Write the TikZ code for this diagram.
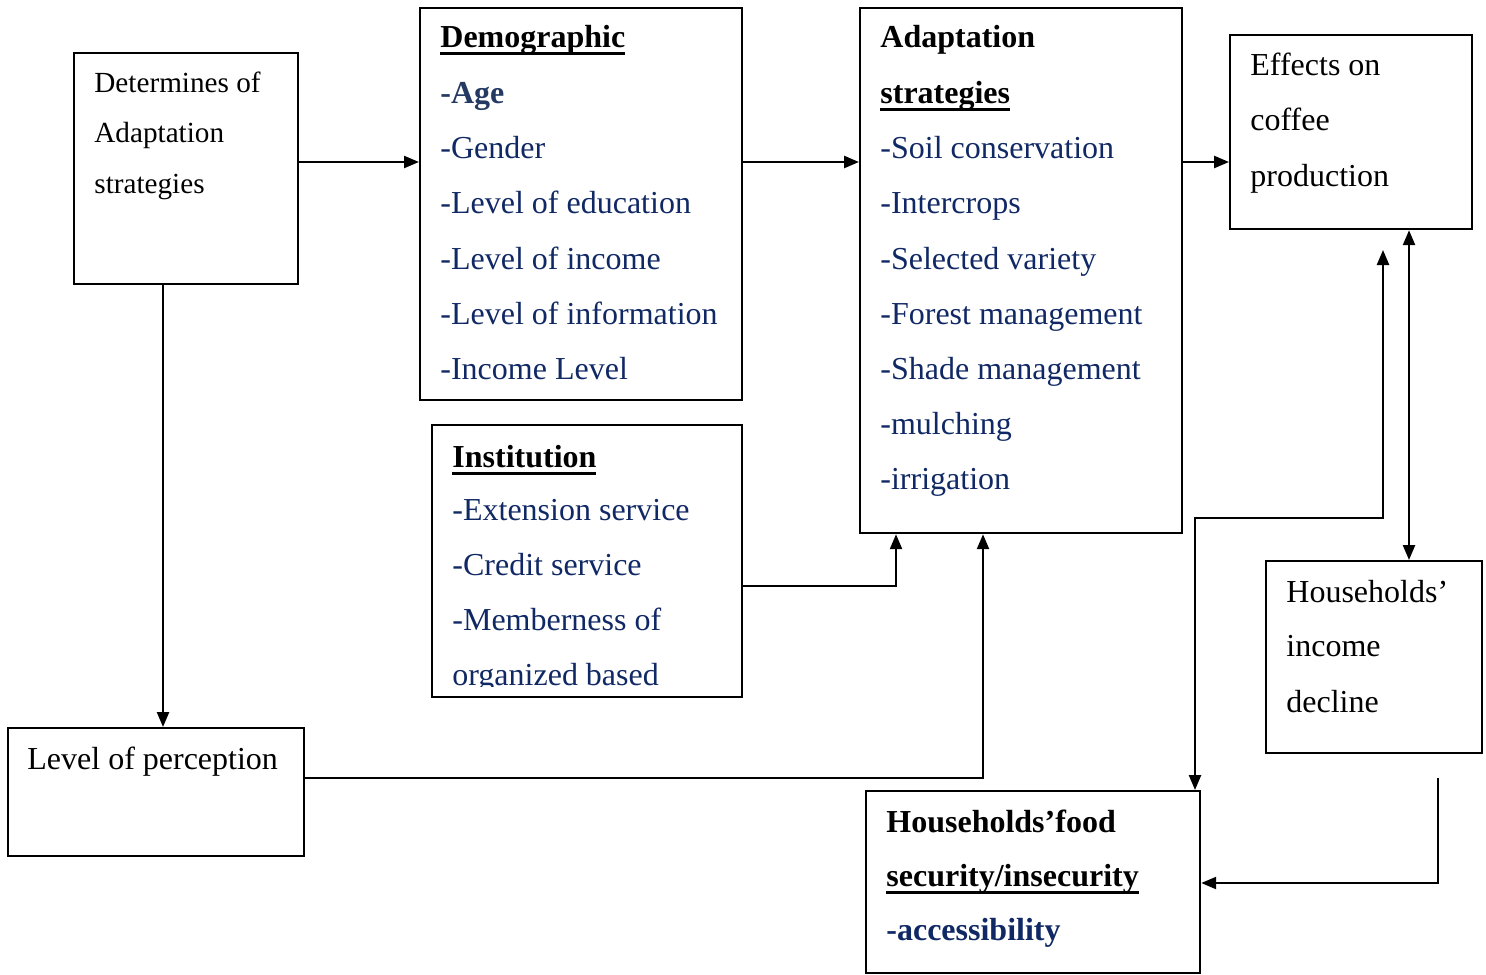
\documentclass[tikz,border=0pt]{standalone}
\usepackage{fontspec}
\setmainfont{Liberation Serif}
\usetikzlibrary{arrows.meta,calc}
\definecolor{navy}{RGB}{16,40,100}
\definecolor{agecol}{RGB}{36,58,98}
\newsavebox{\ulbox}
\newcommand{\headul}[1]{\sbox{\ulbox}{\textbf{#1}}\rlap{\usebox{\ulbox}}\rule[-3.6pt]{\wd\ulbox}{1.4pt}}

\begin{document}
\begin{tikzpicture}[x=0.5pt,y=-0.5pt,
  box/.style={draw,line width=1.1pt,anchor=north west,inner sep=0pt},
  lbl/.style={anchor=base west,inner sep=0pt,yshift=-1.2pt,font=\fontsize{16}{19}\selectfont},
  item/.style={lbl,text=navy},
  arr/.style={line width=1.2pt,-{Triangle[length=7.5pt,width=6pt]}},
  darr/.style={line width=1.2pt,{Triangle[length=7.5pt,width=6pt]}-{Triangle[length=7.5pt,width=6pt]}}]
\useasboundingbox (0,0) rectangle (1486,974);

% boxes
\node[box,minimum width=112pt,minimum height=115.5pt] (det) at (73,52) {};
\node[box,minimum width=161pt,minimum height=196pt] (demo) at (419,7) {};
\node[box,minimum width=161pt,minimum height=262.5pt] (adapt) at (859,7) {};
\node[box,minimum width=121pt,minimum height=97pt] (eff) at (1229,34) {};
\node[box,minimum width=155pt,minimum height=136pt] (inst) at (431,424) {};
\node[box,minimum width=148pt,minimum height=64pt] (perc) at (7,727) {};
\node[box,minimum width=108pt,minimum height=96pt] (hhinc) at (1265,560) {};
\node[box,minimum width=167pt,minimum height=91pt] (food) at (865,790) {};

% texts
\node[lbl,font=\fontsize{14.6}{18}\selectfont] (det1) at (94,90) {Determines of};
\node[lbl,font=\fontsize{14.6}{18}\selectfont] (det2) at (94,140) {Adaptation};
\node[lbl,font=\fontsize{14.6}{18}\selectfont] (det3) at (94,191) {strategies};

\node[lbl] (demoH) at (440,45) {\headul{Demographic}};
\node[lbl,text=agecol] (demo1) at (440,101) {\textbf{-Age}};
\foreach \t [count=\i from 2] in {-Gender,-Level of education,-Level of income,
    -Level of information,-Income Level}
  \node[item] (demo\i) at (440,{101+55.2*(\i-1)}) {\t};

\node[lbl] (adaptH1) at (880,45) {\textbf{Adaptation}};
\node[lbl] (adaptH2) at (880,101) {\headul{strategies}};
\foreach \t [count=\i] in {-Soil conservation,-Intercrops,-Selected variety,
    -Forest management,-Shade management,-mulching,-irrigation}
  \node[item] (adapt\i) at (880,{101+55.2*\i}) {\t};

\node[lbl] (eff1) at (1250,73) {Effects on};
\node[lbl] (eff2) at (1250,128) {coffee};
\node[lbl] (eff3) at (1250,184) {production};

\begin{scope}
\clip (431,424) rectangle (741,686);
\node[lbl] (instH) at (452,465) {\headul{Institution}};
\foreach \t [count=\i] in {-Extension service,-Credit service,-Memberness of,
    organized based}
  \node[item] (inst\i) at (452,{463+55*\i}) {\t};
\end{scope}

\node[lbl] (perc1) at (27,767) {Level of perception};

\node[lbl] (hhinc1) at (1286,600) {Households’};
\node[lbl] (hhinc2) at (1286,654) {income};
\node[lbl] (hhinc3) at (1286,710) {decline};

\node[lbl] (food1) at (886,830) {\textbf{Households’food}};
\node[lbl] (food2) at (886,884) {\headul{security/insecurity}};
\node[lbl,text=navy] (food3) at (886,938) {\textbf{-accessibility}};

% helper rows and columns
\coordinate (rowA) at (0,162);
\coordinate (rowB) at (0,586);
\coordinate (rowC) at (0,778);
\coordinate (rowD) at (0,518);
\coordinate (rowE) at (0,883);
\coordinate (colA) at (163,0);
\coordinate (colB) at (896,0);
\coordinate (colC) at (983,0);
\coordinate (colD) at (1195,0);
\coordinate (colE) at (1383,0);
\coordinate (colF) at (1409,0);
\coordinate (effGap) at (1383,250);
\coordinate (hhGap) at (1438,778);

% connectors
\draw[arr] (det.east |- rowA) -- (demo.west |- rowA);
\draw[arr] (demo.east |- rowA) -- (adapt.west |- rowA);
\draw[arr] (adapt.east |- rowA) -- (eff.west |- rowA);
\draw[arr] (det.south -| colA) -- (perc.north -| colA);
\draw[arr] (inst.east |- rowB) -| (adapt.south -| colB);
\draw[arr] (perc.east |- rowC) -| (adapt.south -| colC);
\draw[darr] (food.north -| colD) |- (rowD -| colE) -- (effGap);
\draw[darr] (eff.south -| colF) -- (hhinc.north -| colF);
\draw[arr] (hhGap) |- (food.east |- rowE);
\end{tikzpicture}
\end{document}
